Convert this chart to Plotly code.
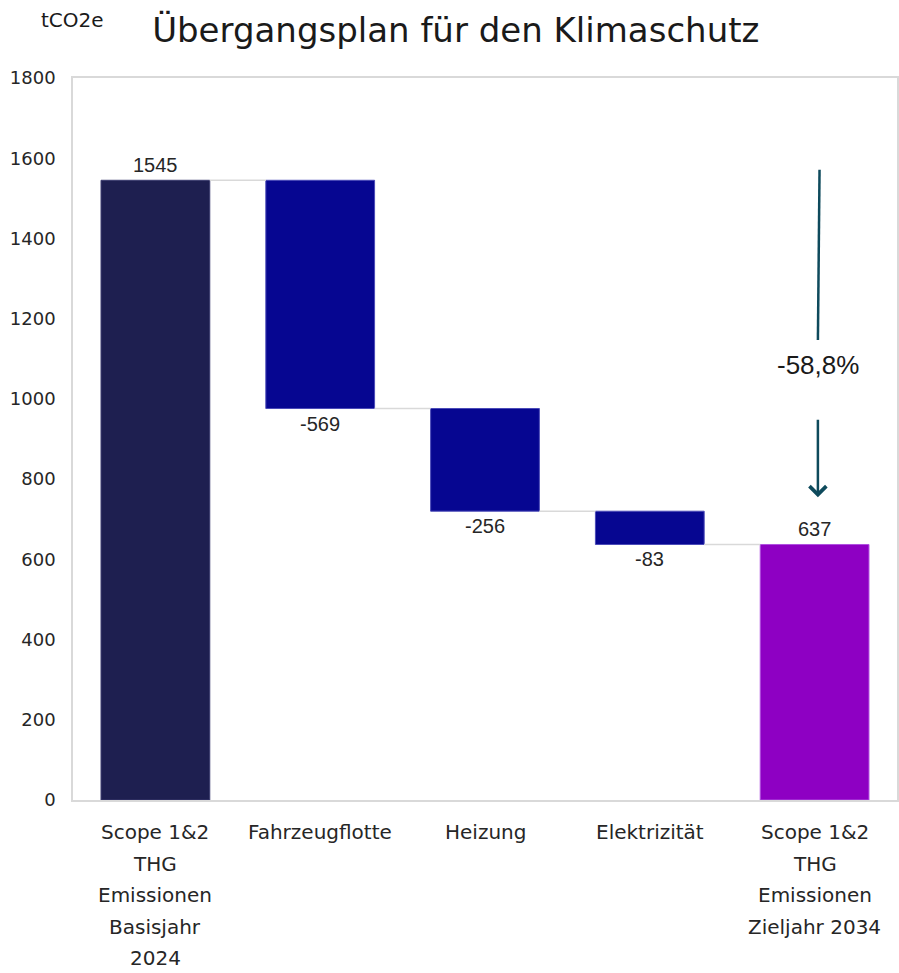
import plotly.graph_objects as go

# ---- data ----
categories = [
    "Scope 1&2<br>THG<br>Emissionen<br>Basisjahr<br>2024",
    "Fahrzeugflotte",
    "Heizung",
    "Elektrizität",
    "Scope 1&2<br>THG<br>Emissionen<br>Zieljahr 2034",
]
values = [1545, -569, -256, -83, 637]
measures = ["absolute", "relative", "relative", "relative", "total"]
bar_colors = ["#1E1F50", "#060691", "#060691", "#060691", "#8E00C3"]
line_colors = ["#3a3b6e", "#4a4ab8", "#4a4ab8", "#4a4ab8", "#b050e0"]
y_ticks = [0, 200, 400, 600, 800, 1000, 1200, 1400, 1600, 1800]
change_label = "-58,8%"

# ---- compute waterfall geometry from data ----
bases, heights, ends = [], [], []
running = 0
for v, m in zip(values, measures):
    if m == "relative":
        bases.append(running)
        heights.append(v)
        running += v
    else:
        bases.append(0)
        heights.append(v)
        running = v
    ends.append(running)

x_idx = list(range(len(categories)))
bar_w = 0.66
FONT = "DejaVu Sans, Verdana, sans-serif"
NUMFONT = "Liberation Sans, Arial, sans-serif"

fig = go.Figure()
fig.add_trace(go.Bar(
    x=x_idx, y=heights, base=bases, width=bar_w,
    marker=dict(color=bar_colors, line=dict(color=line_colors, width=1)),
    hoverinfo="skip", showlegend=False,
))

shapes = []
annotations = []
# connectors
for i in range(len(values) - 1):
    shapes.append(dict(type="line", xref="x", yref="y",
                       x0=i + bar_w / 2, x1=i + 1 - bar_w / 2,
                       y0=ends[i], y1=ends[i],
                       line=dict(color="#d9d9d9", width=1.5)))

# value labels
for i, (v, b, m) in enumerate(zip(values, bases, measures)):
    if v >= 0:
        annotations.append(dict(x=i, y=b + v, xref="x", yref="y", text=str(v),
                                showarrow=False, yanchor="bottom", yshift=2,
                                font=dict(family=NUMFONT, size=20, color="#262626")))
    else:
        annotations.append(dict(x=i, y=b + v, xref="x", yref="y", text=str(v),
                                showarrow=False, yanchor="top", yshift=-2,
                                font=dict(family=NUMFONT, size=20, color="#262626")))

# x category labels (per line for wider line spacing)
for i, lab in enumerate(categories):
    for k, line in enumerate(lab.split("<br>")):
        annotations.append(dict(x=i, y=0, xref="x", yref="paper", text=line,
                                showarrow=False, yanchor="middle", yshift=-32 - 31.5 * k,
                                font=dict(family=FONT, size=20, color="#262626")))

# change arrow
arrow_color = "#0E4A5C"
ax_x = len(values) - 1 + 0.02
shapes.append(dict(type="line", xref="x", yref="y", x0=ax_x + 0.01, x1=ax_x,
                   y0=1571, y1=1147, line=dict(color=arrow_color, width=2.5)))
annotations.append(dict(x=ax_x, y=755, ax=ax_x, ay=952, xref="x", yref="y",
                        axref="x", ayref="y", text="", showarrow=True,
                        arrowhead=4, arrowsize=1.3, arrowwidth=2.5, arrowcolor=arrow_color))
annotations.append(dict(x=ax_x, y=1085, xref="x", yref="y", text=change_label,
                        showarrow=False, yanchor="middle",
                        font=dict(family=NUMFONT, size=26, color="#1a1a1a")))

# unit label
annotations.append(dict(x=-0.001, y=1.08, xref="paper", yref="paper", text="tCO2e",
                        showarrow=False, xanchor="center", yanchor="middle",
                        font=dict(family=FONT, size=20, color="#1a1a1a")))

fig.update_layout(
    width=899, height=973,
    margin=dict(l=73, r=0, t=78, b=173),
    paper_bgcolor="white", plot_bgcolor="white",
    title=dict(text="Übergangsplan für den Klimaschutz", x=0.507, xanchor="center",
               xref="container", y=1 - 30 / 973, yanchor="middle", yref="container",
               font=dict(family=FONT, size=34, color="#1a1a1a")),
    xaxis=dict(range=[-0.5, len(values) - 0.5], showticklabels=False, showgrid=False,
               zeroline=False, showline=True, linecolor="#d9d9d9", linewidth=1.5, mirror=True,
               fixedrange=True),
    yaxis=dict(range=[0, 1800], tickvals=y_ticks, ticktext=[str(t) for t in y_ticks],
               showgrid=False, zeroline=False, showline=True, linecolor="#d9d9d9",
               linewidth=1.5, mirror=True, ticks="", ticklabelstandoff=12,
               tickfont=dict(family=FONT, size=18, color="#262626")),
    shapes=shapes, annotations=annotations,
    showlegend=False,
)

fig.write_html("out.html", config={"displayModeBar": False},
               post_script="document.body.style.margin='0';document.body.style.overflow='hidden';")
